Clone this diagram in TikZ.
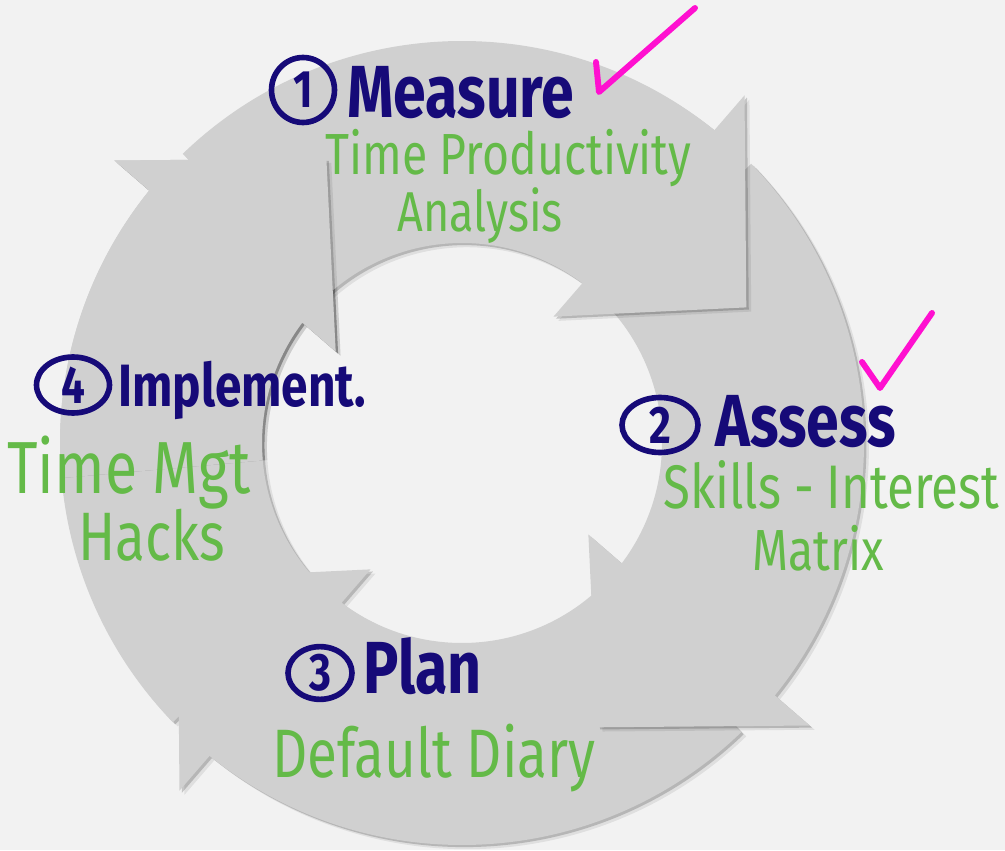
\documentclass[tikz,border=0pt]{standalone}
\usepackage{fontspec}
\newfontfamily\hand{Fira Sans}[FakeStretch=0.8]
\usetikzlibrary{shapes.geometric, shadows}
\definecolor{ringgray}{RGB}{208,208,208}
\definecolor{pagebg}{RGB}{242,242,242}
\definecolor{inknavy}{RGB}{22,10,120}
\definecolor{inkgreen}{RGB}{100,186,72}
\definecolor{inkpink}{RGB}{255,16,208}

%% one block arrow of the cycle; #1 = turn (deg) from the top position
\tikzset{
  cyclearrow/.pic={
    \path[block] ({134+#1}:402) arc[start angle={134+#1}, end angle={51.1+#1}, radius=402]
      -- ({50.9+#1}:448) -- ({25.5+#1}:315) -- ({54.1+#1}:156) -- ({53+#1}:200)
      arc[start angle={53+#1}, end angle={134+#1}, radius=200] -- cycle;
  }
}

\begin{document}
\begin{tikzpicture}[
        x=0.02cm, y=0.02cm,
        block/.style={fill=ringgray,
          drop shadow={shadow xshift=2.8pt, shadow yshift=-2.4pt, opacity=.08, fill=black},
          drop shadow={shadow xshift=1.4pt, shadow yshift=-1.2pt, opacity=.18, fill=black}},
        numring/.style={ellipse, draw=inknavy, line width=3.2pt, inner sep=0pt, text=inknavy,
          font=\hand\bfseries\fontsize{30}{30}\selectfont},
        steptitle/.style={anchor=base west, inner sep=0pt, text=inknavy,
          font=\hand\bfseries\fontsize{#1}{#1}\selectfont},
        stepnote/.style={anchor=base west, inner sep=0pt, text=inkgreen,
          font=\hand\fontsize{#1}{#1}\selectfont},
        checkmark/.style={draw=inkpink, line width=3.4pt, line cap=round, line join=round}
    ]
    %% --- page ---
    \fill[pagebg] (0,0) rectangle (1005,850);
    \useasboundingbox (0,0) rectangle (1005,850);

    %% --- ring of four arrows (each head lies over the next tail) ---
    \coordinate (c) at (462,407);
    \pic at (c) {cyclearrow=90};   % Implement
    \pic at (c) {cyclearrow=180};  % Plan
    \pic at (c) {cyclearrow=-90};  % Assess
    \pic at (c) {cyclearrow=0};    % Measure
    \begin{scope}
        \clip (c) -- ++(95:470) arc[start angle=95, end angle=185, radius=470] -- cycle;
        \pic at (c) {cyclearrow=90};
    \end{scope}

    %% --- 1 Measure ---
    \node[numring, minimum width=1.26cm, minimum height=1.3cm] (num1) at (303,760) {1};
    \node[steptitle=42] (measure) at (347,732) {Measure};
    \node[stepnote=33] (timeprod) at (325,675) {Time Productivity};
    \node[stepnote=32] (analysis) at (397,618) {Analysis};

    %% --- 2 Assess ---
    \node[numring, minimum width=1.52cm, minimum height=1.1cm] (num2) at (660,425) {2};
    \node[steptitle=42] (assess) at (715,404) {Assess};
    \node[stepnote=35] (skills) at (663,342) {Skills - Interest};
    \node[stepnote=33] (matrix) at (752,280) {Matrix};

    %% --- 3 Plan ---
    \node[numring, minimum width=1.28cm, minimum height=1.02cm] (num3) at (320,177) {3};
    \node[steptitle=42] (plan) at (363,157) {Plan};
    \node[stepnote=39] (diary) at (272,73) {Default Diary};

    %% --- 4 Implement ---
    \node[numring, minimum width=1.46cm, minimum height=1.12cm] (num4) at (73,465) {4};
    \node[steptitle=34] (implement) at (118,443) {Implement.};
    \node[stepnote=42] (timemgt) at (7,357) {Time Mgt};
    \node[stepnote=39] (hacks) at (78,290) {Hacks};

    %% --- ticks ---
    \draw[checkmark] (596,788) -- (599,758) -- (695,842);
    \draw[checkmark] (862,488) -- (880,462) -- (932,537);
\end{tikzpicture}
\end{document}
